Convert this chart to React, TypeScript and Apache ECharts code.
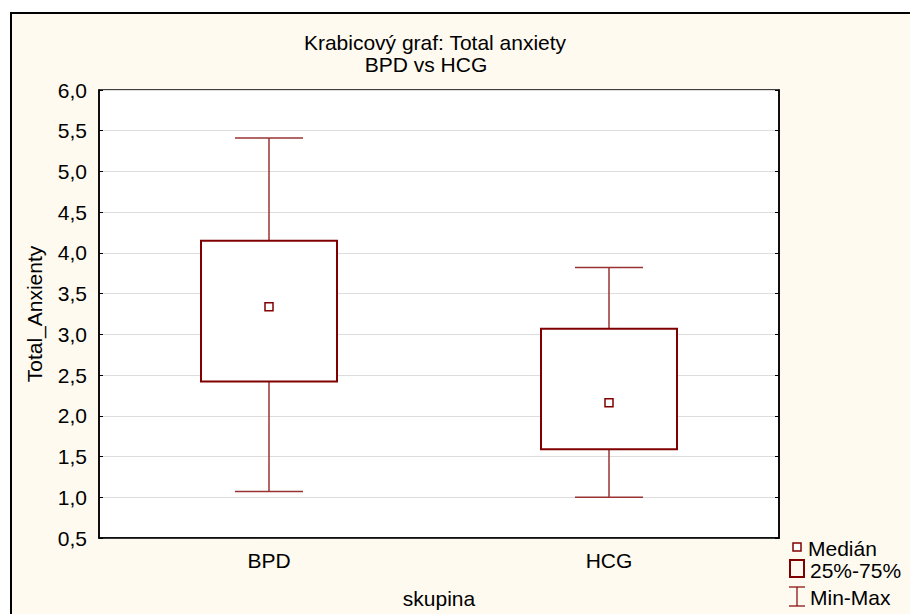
import React, { useEffect, useRef } from "react";
import * as echarts from "echarts";

const categories = ["BPD", "HCG"];
const mins = [1.07, 1.0];
const q1s = [2.42, 1.59];
const medians = [3.34, 2.16];
const q3s = [4.15, 3.07];
const maxs = [5.41, 3.82];
const yTicks = { min: 0.5, max: 6.0, interval: 0.5 };

const FONT = "'Liberation Sans', Arial, sans-serif";
const FS = 21;
const RED = "#800000";

export default function App() {
  const ref = useRef<HTMLDivElement>(null);
  useEffect(() => {
    if (!ref.current) return;
    const chart = echarts.init(ref.current, null, { renderer: "svg" });
    const data = categories.map((_, i) => [i, mins[i], q1s[i], medians[i], q3s[i], maxs[i]]);
    const titleStyle = { fontFamily: FONT, fontSize: FS, fontWeight: "normal", color: "#000", lineHeight: 22 };
    const option: any = {
      animation: false,
      backgroundColor: "#ffffff",
      textStyle: { fontFamily: FONT },
      title: [
        {
          text: "Krabicový graf: Total anxiety",
          left: 435,
          top: 31,
          padding: 0,
          textAlign: "center",
          textStyle: titleStyle,
        },
        {
          text: "BPD vs HCG",
          left: 426,
          top: 53,
          padding: 0,
          textAlign: "center",
          textStyle: titleStyle,
        },
      ],
      grid: {
        left: 99,
        top: 90,
        right: 131,
        bottom: 75,
        show: true,
        backgroundColor: "#ffffff",
        borderColor: "#000",
        borderWidth: 1.5,
      },
      xAxis: {
        type: "category",
        data: categories,
        name: "skupina",
        nameLocation: "middle",
        nameGap: 50,
        nameTextStyle: { fontFamily: FONT, fontSize: FS, color: "#000" },
        axisLine: { lineStyle: { color: "#000", width: 1.5 } },
        axisTick: { inside: true, alignWithLabel: true, length: 4, lineStyle: { color: "#000" } },
        axisLabel: { fontFamily: FONT, fontSize: FS, color: "#000", margin: 12 },
        splitLine: { show: false },
      },
      yAxis: [
        {
          type: "value",
          min: yTicks.min,
          max: yTicks.max,
          interval: yTicks.interval,
          name: "Total_Anxienty",
          nameLocation: "middle",
          nameGap: 54,
          nameTextStyle: { fontFamily: FONT, fontSize: FS, color: "#000" },
          axisLine: { show: true, lineStyle: { color: "#000", width: 1.5 } },
          axisTick: { show: true, inside: true, length: 4, lineStyle: { color: "#000" } },
          axisLabel: {
            fontFamily: FONT,
            fontSize: FS,
            color: "#000",
            margin: 12,
            formatter: (v: number) => v.toFixed(1).replace(".", ","),
          },
          splitLine: { show: true, lineStyle: { color: "#dddddd", width: 1 } },
        },
        {
          type: "value",
          position: "right",
          min: yTicks.min,
          max: yTicks.max,
          interval: yTicks.interval,
          axisLine: { show: true, lineStyle: { color: "#000", width: 1.5 } },
          axisTick: { show: true, inside: true, length: 4, lineStyle: { color: "#000" } },
          axisLabel: { show: false },
          splitLine: { show: false },
        },
      ],
      series: [
        {
          type: "custom",
          yAxisIndex: 0,
          data,
          encode: { x: 0, y: [1, 2, 3, 4, 5] },
          renderItem: (params: any, api: any) => {
            const idx = api.value(0);
            const band = api.size([1, 0])[0];
            const pMin = api.coord([idx, api.value(1)]);
            const pQ1 = api.coord([idx, api.value(2)]);
            const pMed = api.coord([idx, api.value(3)]);
            const pQ3 = api.coord([idx, api.value(4)]);
            const pMax = api.coord([idx, api.value(5)]);
            const cx = pMed[0];
            const boxW = band * 0.4;
            const capW = band * 0.2;
            const ms = 8;
            const wStyle = { stroke: "#993333", lineWidth: 1.5 };
            return {
              type: "group",
              children: [
                { type: "line", shape: { x1: cx, y1: pQ3[1], x2: cx, y2: pMax[1] }, style: wStyle },
                { type: "line", shape: { x1: cx - capW / 2, y1: pMax[1], x2: cx + capW / 2, y2: pMax[1] }, style: wStyle },
                { type: "line", shape: { x1: cx, y1: pQ1[1], x2: cx, y2: pMin[1] }, style: wStyle },
                { type: "line", shape: { x1: cx - capW / 2, y1: pMin[1], x2: cx + capW / 2, y2: pMin[1] }, style: wStyle },
                {
                  type: "rect",
                  shape: { x: cx - boxW / 2, y: pQ3[1], width: boxW, height: pQ1[1] - pQ3[1] },
                  style: { fill: "#ffffff", stroke: RED, lineWidth: 2 },
                },
                {
                  type: "rect",
                  shape: { x: cx - ms / 2, y: pMed[1] - ms / 2, width: ms, height: ms },
                  style: { fill: "#ffffff", stroke: RED, lineWidth: 1.5 },
                },
              ],
            };
          },
        },
      ],
      graphic: [
        {
          type: "rect",
          z: -10,
          silent: true,
          shape: { x: 11, y: 13, width: 1000, height: 1000 },
          style: { fill: "#FFFAF0", stroke: "#000", lineWidth: 2 },
        },
        {
          type: "rect",
          shape: { x: 793, y: 543, width: 8, height: 8 },
          style: { fill: "#fff", stroke: RED, lineWidth: 1.5 },
        },
        {
          type: "text",
          x: 808,
          y: 548,
          style: { text: "Medián", font: `${FS}px ${FONT}`, fill: "#000", verticalAlign: "middle" },
        },
        {
          type: "rect",
          shape: { x: 790, y: 560, width: 14, height: 17 },
          style: { fill: "#FFFAF0", stroke: RED, lineWidth: 2 },
        },
        {
          type: "text",
          x: 810,
          y: 570,
          style: { text: "25%-75%", font: `${FS}px ${FONT}`, fill: "#000", verticalAlign: "middle" },
        },
        { type: "line", shape: { x1: 797, y1: 587, x2: 797, y2: 606 }, style: { stroke: RED, lineWidth: 1.2 } },
        { type: "line", shape: { x1: 789, y1: 587, x2: 805, y2: 587 }, style: { stroke: RED, lineWidth: 1.2 } },
        { type: "line", shape: { x1: 789, y1: 606, x2: 805, y2: 606 }, style: { stroke: RED, lineWidth: 1.2 } },
        {
          type: "text",
          x: 810,
          y: 597,
          style: { text: "Min-Max", font: `${FS}px ${FONT}`, fill: "#000", verticalAlign: "middle" },
        },
      ],
    };
    chart.setOption(option);
    return () => chart.dispose();
  }, []);
  return (
    <div
      ref={ref}
      style={{ position: "absolute", left: 0, top: 0, width: 910, height: 614 }}
    />
  );
}
